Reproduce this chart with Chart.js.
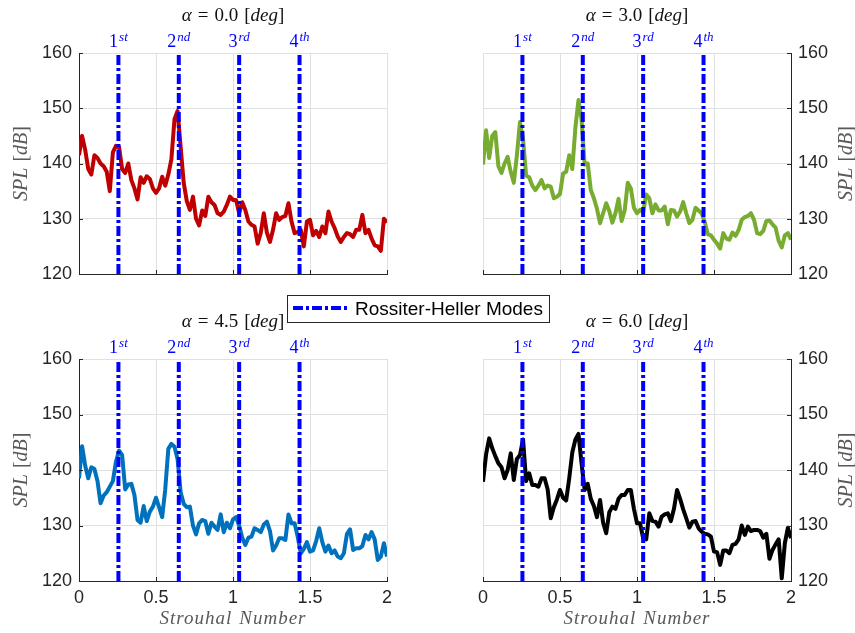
<!DOCTYPE html>
<html>
<head>
<meta charset="utf-8">
<script src="https://cdn.jsdelivr.net/npm/chart.js@4.4.1/dist/chart.umd.min.js"></script>
<style>
  body { margin: 0; background: #fff; }
  #wrap { position: relative; width: 855px; height: 633px; }
  #wrap canvas { position: absolute; left: 0; top: 0; }
</style>
</head>
<body>
<div id="wrap">
  <canvas id="p1" width="855" height="633"></canvas>
  <canvas id="p2" width="855" height="633"></canvas>
  <canvas id="p3" width="855" height="633"></canvas>
  <canvas id="p4" width="855" height="633"></canvas>
</div>
<script>
// spectra are sampled every 0.02 in Strouhal number, from 0 to 2
var stStep = 0.02;
var alphas = ['0.0', '3.0', '4.5', '6.0'];
var rossiterModes = [0.256, 0.648, 1.040, 1.432];
var modeLabels = [['1', 'st'], ['2', 'nd'], ['3', 'rd'], ['4', 'th']];
var splRange = [120, 160];
var stRange = [0, 2];

var splA00 = [
  141.5, 145, 142.5, 139, 138, 141.5, 141, 140, 139.5, 138.5,
  135, 142, 143.2, 143, 139, 138.3, 140, 137, 135.5, 133.5,
  137.5, 136.5, 137.7, 137.2, 135.5, 134.7, 135.5, 137.6, 136, 138,
  140.8, 148, 149.5, 143, 136.5, 133.2, 131.6, 134, 130, 128.8,
  131.5, 130.5, 134, 133, 132.5, 131, 130.7, 131.3, 132.5, 134,
  133.4, 133.4, 131, 133, 131.6, 129.5, 128.9, 128.6, 125.5, 127.4,
  131, 127.5, 125.8, 128, 131, 129.8, 130.3, 130.5, 132.8, 129.5,
  127.4, 127.6, 128, 125, 129.5, 129.8, 127, 127.8, 126.7, 128.6,
  127.4, 131.3, 129.5, 128.3, 126.8, 125.8, 126.7, 127.4, 127.2, 126.7,
  128, 128, 130.7, 127.4, 128, 126.4, 125.2, 125, 124.2, 130,
  129.3
];
var splA30 = [
  139.8, 146, 141, 145, 145.7, 139.5, 138.3, 140, 141.2, 138.5,
  136.5, 141.5, 147.5, 144.5, 137.8, 137.5, 136, 135.2, 136, 137,
  135.5, 136, 135.8, 133.7, 134, 134.5, 138.2, 138.5, 141.5, 139,
  146.5, 151.5, 148, 139.8, 140, 135.2, 133.7, 131.8, 129.2, 131,
  132.8, 131.4, 129.3, 131, 133.6, 129.6, 131.5, 136.5, 135.5, 132,
  131, 131.6, 131.2, 134.4, 133.7, 131, 132.6, 131.5, 131.5, 132.2,
  129, 131.6, 131.5, 130.4, 131.3, 133, 131, 129.2, 129.8, 132,
  131.5, 131, 129.4, 127.2, 127, 126.2, 125.5, 124.6, 127.4, 126.4,
  126.2, 127.5, 126.9, 128, 129.8, 130.3, 130.5, 131, 129.8, 127.4,
  127.2, 127.8, 129.6, 129.7, 129, 128.4, 126, 124.8, 127, 127.4,
  126.2
];
var splA45 = [
  138.5, 144.3, 140.8, 138.5, 140.5, 140.2, 138, 134, 135.4, 136,
  137, 138, 141.5, 143.5, 142.7, 136.5, 137.4, 137.5, 135.5, 131,
  130.5, 133.5, 130.8, 132.5, 133.4, 135, 133.3, 131.5, 136.5, 143.8,
  144.7, 144.2, 142, 136, 133.9, 133.3, 133.4, 130, 128.4, 130.4,
  131, 130.8, 128.5, 130.5, 129.8, 129.2, 132, 128.8, 130.5, 129.5,
  131.1, 131.5, 130, 127.8, 126.5, 127.8, 128, 129.5, 129.2, 128.8,
  130.2, 130.7, 129, 125.5, 126.4, 127.7, 127.7, 127.4, 132, 130.4,
  130.4, 128, 125, 125.8, 127, 125.3, 125.5, 127.2, 129.5, 127,
  125.3, 126.4, 125, 125.5, 124.4, 124.1, 125, 128.5, 129.3, 125.6,
  125.9, 125.9, 126.3, 128.3, 127.5, 128.8, 127.5, 123.8, 124.4, 126.8,
  124.4
];
var splA60 = [
  137.9, 142.8, 145.7, 143.9, 142.5, 141.2, 140.5, 138.5, 140, 143,
  138.2, 142, 142.7, 145.5, 138, 139.4, 137.3, 137.3, 137, 138.5,
  138.5, 136.5, 131.3, 133.3, 134.7, 136.4, 135, 134.5, 138.5, 143.2,
  145.5, 146.5, 141.2, 136.4, 137.5, 134.8, 133.5, 131.5, 134.6, 130.5,
  128.6, 132.4, 133.4, 133, 134.8, 135.5, 135.5, 136.4, 136.4, 133,
  130.4, 130.4, 127.7, 127.5, 132.2, 130.8, 130.7, 129.8, 131.6, 132,
  132.2, 130.8, 133, 136.4, 134.8, 132.9, 131.3, 129.6, 130.7, 130.8,
  129.5, 128.9, 128.5, 128.4, 128, 125.3, 125.2, 122.9, 125.5, 125.5,
  125, 126.5, 126.7, 127.5, 130, 128.3, 129.8, 129, 129.2, 129.2,
  129, 127.8, 128.5, 124, 125.6, 126.6, 127.5, 120.5, 126.8, 129.6,
  127.7
];

var SERIF = '"Liberation Serif", "Times New Roman", serif';
var SANS = '"Liberation Sans", Arial, sans-serif';
var AXIS_COLOR = '#262626';
var GRID_COLOR = '#e0e0e0';
var LABEL_GRAY = '#595959';
var MODE_BLUE = '#0000ff';
var MODE_DASH = [10, 3, 3, 3];
var W = 855, H = 633;
var Y_AXIS_W = 50, X_AXIS_H = 30;

Chart.defaults.font.family = SANS;

// draws a run of differently styled pieces of text one after another
function drawParts(ctx, parts, x, y, align) {
  var total = 0;
  parts.forEach(function (p) {
    ctx.font = p.font;
    p.w = ctx.measureText(p.t).width + (p.gap || 0);
    total += p.w;
  });
  var cx = align === 'center' ? x - total / 2 : x;
  parts.forEach(function (p) {
    ctx.font = p.font;
    ctx.fillText(p.t, cx, y - (p.rise || 0));
    cx += p.w;
  });
}

var panelText = {
  id: 'panelText',
  afterDraw: function (chart, args, opts) {
    var ctx = chart.ctx;
    var a = chart.chartArea;
    var xs = chart.scales.x, ys = chart.scales.y;
    var mid = (a.left + a.right) / 2;
    ctx.save();

    // short inward tick marks on the two visible axes
    ctx.strokeStyle = AXIS_COLOR;
    ctx.lineWidth = 1;
    ctx.beginPath();
    xs.ticks.forEach(function (t) {
      var px = Math.round(xs.getPixelForValue(t.value)) + 0.5;
      ctx.moveTo(px, a.bottom);
      ctx.lineTo(px, a.bottom - 4);
    });
    ys.ticks.forEach(function (t) {
      var py = Math.round(ys.getPixelForValue(t.value)) + 0.5;
      if (opts.yRight) { ctx.moveTo(a.right, py); ctx.lineTo(a.right - 4, py); }
      else { ctx.moveTo(a.left, py); ctx.lineTo(a.left + 4, py); }
    });
    ctx.stroke();

    ctx.textBaseline = 'alphabetic';

    // panel title
    ctx.fillStyle = '#111';
    drawParts(ctx, [
      { t: 'α', font: 'italic 19px ' + SERIF, gap: 6 },
      { t: '=', font: '19px ' + SERIF, gap: 6 },
      { t: opts.alpha, font: '19px ' + SERIF, gap: 6 },
      { t: '[', font: '19px ' + SERIF },
      { t: 'deg', font: 'italic 19px ' + SERIF },
      { t: ']', font: '19px ' + SERIF }
    ], mid, a.top - 32, 'center');

    // mode labels above the dash-dot lines
    ctx.fillStyle = MODE_BLUE;
    rossiterModes.forEach(function (m, i) {
      drawParts(ctx, [
        { t: modeLabels[i][0], font: '18px ' + SERIF, gap: 1 },
        { t: modeLabels[i][1], font: 'italic 13px ' + SERIF, rise: 6 }
      ], xs.getPixelForValue(m), a.top - 6, 'center');
    });

    // y axis label
    ctx.fillStyle = LABEL_GRAY;
    ctx.save();
    ctx.translate(opts.yRight ? a.right + 56 : a.left - 57, (a.top + a.bottom) / 2);
    ctx.rotate(-Math.PI / 2);
    ctx.textBaseline = 'middle';
    drawParts(ctx, [
      { t: 'SPL', font: 'italic 20px ' + SERIF, gap: 6 },
      { t: '[', font: '20px ' + SERIF },
      { t: 'dB', font: 'italic 20px ' + SERIF },
      { t: ']', font: '20px ' + SERIF }
    ], 0, 0, 'center');
    ctx.restore();

    // x axis label
    if (opts.xLabel) {
      ctx.letterSpacing = '1px';
      drawParts(ctx, [
        { t: 'Strouhal', font: 'italic 19px ' + SERIF, gap: 7 },
        { t: 'Number', font: 'italic 19px ' + SERIF }
      ], mid, a.bottom + 43, 'center');
      ctx.letterSpacing = '0px';
    }

    // shared legend box
    if (opts.legend) {
      var lx = 287, ly = 295, lw = 262, lh = 27;
      ctx.fillStyle = '#fff';
      ctx.fillRect(lx, ly, lw, lh);
      ctx.strokeStyle = AXIS_COLOR;
      ctx.lineWidth = 1;
      ctx.strokeRect(lx + 0.5, ly + 0.5, lw, lh);
      ctx.strokeStyle = MODE_BLUE;
      ctx.lineWidth = 4;
      ctx.setLineDash(MODE_DASH);
      ctx.beginPath();
      ctx.moveTo(lx + 6, ly + 13);
      ctx.lineTo(lx + 63, ly + 13);
      ctx.stroke();
      ctx.setLineDash([]);
      ctx.fillStyle = '#000';
      ctx.font = '19px ' + SANS;
      ctx.fillText('Rossiter-Heller Modes', lx + 68, ly + 20);
    }
    ctx.restore();
  }
};

function makePanel(id, spl, color, alpha, area, yRight, showX, legend) {
  var datasets = rossiterModes.map(function (m) {
    return {
      data: [{ x: m, y: splRange[0] }, { x: m, y: splRange[1] }],
      borderColor: MODE_BLUE,
      borderWidth: 4,
      borderDash: MODE_DASH,
      pointRadius: 0,
      order: 0
    };
  });
  datasets.push({
    data: spl.map(function (v, i) { return { x: +(i * stStep).toFixed(2), y: v }; }),
    borderColor: color,
    borderWidth: 4,
    borderJoinStyle: 'round',
    pointRadius: 0,
    order: 1
  });

  var pad = {
    top: area.top,
    bottom: H - area.bottom - X_AXIS_H,
    left: yRight ? area.left : area.left - Y_AXIS_W,
    right: yRight ? W - area.right - Y_AXIS_W : W - area.right
  };

  new Chart(document.getElementById(id), {
    type: 'line',
    data: { datasets: datasets },
    options: {
      responsive: false,
      animation: false,
      events: [],
      layout: { padding: pad },
      scales: {
        x: {
          type: 'linear',
          min: stRange[0],
          max: stRange[1],
          ticks: {
            stepSize: 0.5, display: showX, padding: 6, color: AXIS_COLOR, font: { size: 18 },
            callback: function (v) { return String(v); }
          },
          grid: { color: GRID_COLOR, drawTicks: false },
          border: { color: AXIS_COLOR },
          afterFit: function (s) { s.height = X_AXIS_H; }
        },
        y: {
          position: yRight ? 'right' : 'left',
          min: splRange[0],
          max: splRange[1],
          ticks: { stepSize: 10, padding: 7, color: AXIS_COLOR, font: { size: 18 } },
          grid: { color: GRID_COLOR, drawTicks: false },
          border: { color: AXIS_COLOR },
          afterFit: function (s) { s.width = Y_AXIS_W; }
        }
      },
      plugins: {
        legend: { display: false },
        tooltip: { enabled: false },
        panelText: { alpha: alpha, yRight: yRight, xLabel: showX, legend: legend }
      }
    },
    plugins: [panelText]
  });
}

makePanel('p1', splA00, '#c00000', alphas[0], { left: 79, right: 387, top: 53, bottom: 274 }, false, false, false);
makePanel('p2', splA30, '#77ac30', alphas[1], { left: 483, right: 791, top: 53, bottom: 274 }, true, false, false);
makePanel('p3', splA45, '#0072bd', alphas[2], { left: 79, right: 387, top: 359, bottom: 581 }, false, true, true);
makePanel('p4', splA60, '#000000', alphas[3], { left: 483, right: 791, top: 359, bottom: 581 }, true, true, false);
</script>
</body>
</html>
